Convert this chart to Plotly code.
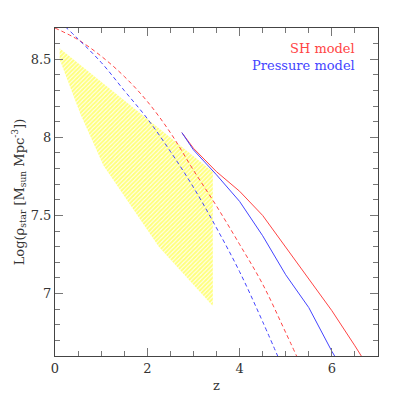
import plotly.graph_objects as go

# observed stellar mass density region (hatched)
obs_z = [0.1, 0.1, 0.55, 1.05, 2.25, 3.42, 3.42, 0.1]
obs_logrho = [8.57, 8.50, 8.15, 7.82, 7.30, 6.92, 7.78, 8.57]

# SH model
sh_z = [2.75, 3.0, 3.5, 4.0, 4.5, 5.0, 5.5, 6.0, 6.5, 7.0]
sh_logrho = [8.03, 7.93, 7.78, 7.655, 7.50, 7.295, 7.09, 6.89, 6.665, 6.43]

# Pressure model
pr_z = [2.75, 3.0, 3.5, 4.0, 4.5, 5.0, 5.5, 6.0, 6.5]
pr_logrho = [8.03, 7.92, 7.76, 7.59, 7.37, 7.12, 6.91, 6.63, 6.38]

# dashed curves
sh_dash_z = [0.0, 0.5, 1.0, 1.5, 2.0, 2.5, 3.0, 3.5, 4.0, 4.5, 5.0, 5.5]
sh_dash_logrho = [8.70, 8.625, 8.52, 8.39, 8.23, 8.03, 7.79, 7.56, 7.315, 7.06, 6.75, 6.43]

pr_dash_z = [0.0, 0.5, 1.0, 1.5, 2.0, 2.5, 3.0, 3.5, 4.0, 4.5, 5.0]
pr_dash_logrho = [8.77, 8.63, 8.48, 8.30, 8.12, 7.91, 7.68, 7.42, 7.14, 6.82, 6.48]

RED = "#ff4444"
BLUE = "#4444ff"
FONT = "DejaVu Serif"

fig = go.Figure()

fig.add_trace(
    go.Scatter(
        x=obs_z,
        y=obs_logrho,
        mode="lines",
        line=dict(width=0, color="rgba(0,0,0,0)"),
        fill="toself",
        fillcolor="rgba(0,0,0,0)",
        fillpattern=dict(
            shape="/",
            fgcolor="#ffff00",
            bgcolor="rgba(0,0,0,0)",
            size=3,
            solidity=0.7
        ),
        hoverinfo="skip"
    )
)

fig.add_trace(
    go.Scatter(
        x=sh_dash_z,
        y=sh_dash_logrho,
        mode="lines",
        line=dict(color=RED, width=1, dash="4px,3px", shape="spline")
    )
)

fig.add_trace(
    go.Scatter(
        x=pr_dash_z,
        y=pr_dash_logrho,
        mode="lines",
        line=dict(color=BLUE, width=1, dash="4px,3px", shape="spline")
    )
)

fig.add_trace(
    go.Scatter(
        x=sh_z,
        y=sh_logrho,
        mode="lines",
        line=dict(color=RED, width=1)
    )
)

fig.add_trace(
    go.Scatter(
        x=pr_z,
        y=pr_logrho,
        mode="lines",
        line=dict(color=BLUE, width=1)
    )
)

axis_style = dict(
    showline=True,
    linecolor="#444444",
    linewidth=1,
    mirror="ticks",
    ticks="inside",
    ticklen=8,
    tickcolor="#777777",
    showgrid=False,
    zeroline=False,
    automargin=False,
    tickfont=dict(family=FONT, size=13, color="#333333")
)

fig.update_xaxes(
    range=[0, 7],
    dtick=2,
    tick0=0,
    title=dict(text="z", font=dict(family=FONT, size=13, color="#333333"), standoff=6),
    minor=dict(dtick=0.5, ticks="inside", ticklen=5, tickcolor="#777777"),
    **axis_style
)

fig.update_yaxes(
    range=[6.6, 8.7],
    dtick=0.5,
    tick0=7,
    title=dict(
        text="Log(ρ<sub>star</sub> [M<sub>sun</sub> Mpc<sup>-3</sup>])",
        font=dict(family=FONT, size=13, color="#333333"),
        standoff=3
    ),
    minor=dict(dtick=0.1, ticks="inside", ticklen=5, tickcolor="#777777"),
    **axis_style
)

fig.add_annotation(
    x=0.935, y=0.936, xref="paper", yref="paper",
    xanchor="right", yanchor="middle",
    text="SH model", showarrow=False,
    font=dict(family=FONT, size=13, color=RED)
)

fig.add_annotation(
    x=0.935, y=0.887, xref="paper", yref="paper",
    xanchor="right", yanchor="middle",
    text="Pressure model", showarrow=False,
    font=dict(family=FONT, size=13, color=BLUE)
)

# page body adds an 8px offset, so margins are shifted to compensate
fig.update_layout(
    width=399,
    height=399,
    margin=dict(l=47, r=29, t=20, b=51),
    showlegend=False,
    plot_bgcolor="white",
    paper_bgcolor="white"
)

fig.write_html("out.html")
